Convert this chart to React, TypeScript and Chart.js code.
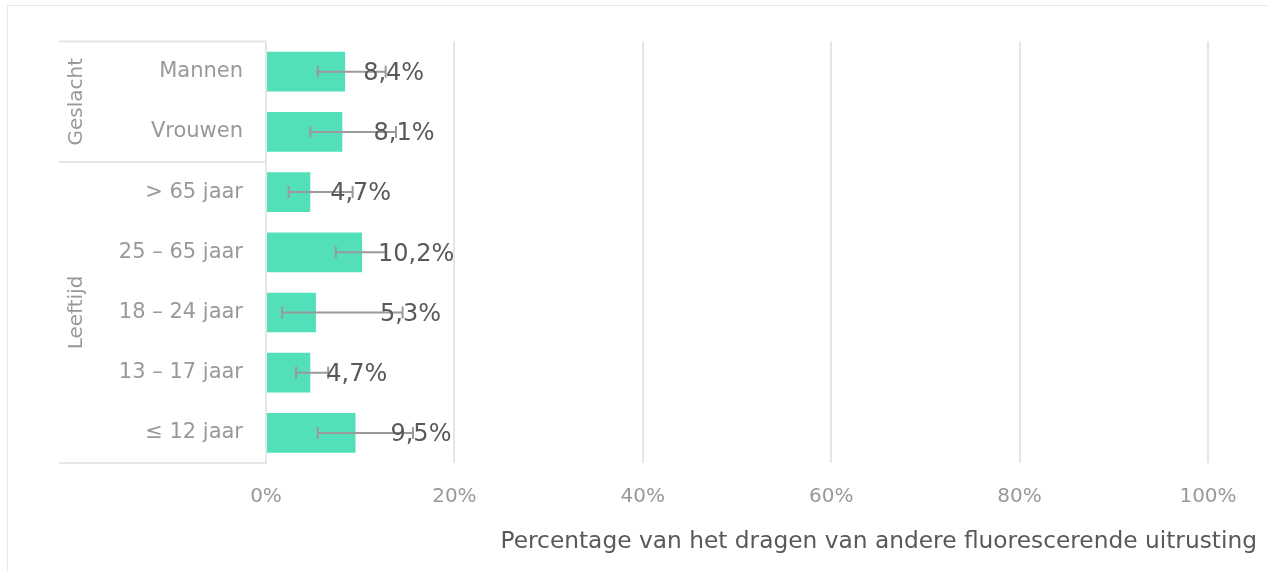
import React, { useEffect, useRef } from "react";
import { Chart, registerables } from "chart.js";

Chart.register(...registerables);

const categories = ["Mannen", "Vrouwen", "> 65 jaar", "25 – 65 jaar", "18 – 24 jaar", "13 – 17 jaar", "≤ 12 jaar"];
const values = [8.4, 8.1, 4.7, 10.2, 5.3, 4.7, 9.5];
const errLow = [5.5, 4.7, 2.4, 7.4, 1.7, 3.2, 5.5];
const errHigh = [12.7, 13.8, 9.2, 12.7, 14.5, 6.6, 15.6];
const groupLabels = ["Geslacht", "Leeftijd"];
const groupSizes = [2, 5];
const xTicks = [0, 20, 40, 60, 80, 100];
const axisTitle = "Percentage van het dragen van andere fluorescerende uitrusting";

const FONT = "'DejaVu Sans', Verdana, sans-serif";
const LINE = "#e6e6e6";

const W = 1259;
const H = 565;

const overlay = {
  id: "overlay",
  afterDatasetsDraw(chart: any) {
    const ctx = chart.ctx;
    const x = chart.scales.x;
    const y = chart.scales.y;
    ctx.save();
    // table lines on the category side
    ctx.strokeStyle = LINE;
    ctx.lineWidth = 2;
    const tableLeft = 51;
    const rowBounds: number[] = [y.top];
    let idx = 0;
    groupSizes.forEach((n) => {
      idx += n;
      if (idx < categories.length) {
        rowBounds.push((y.getPixelForValue(idx - 1) + y.getPixelForValue(idx)) / 2);
      } else {
        rowBounds.push(y.bottom);
      }
    });
    rowBounds.forEach((py) => {
      ctx.beginPath();
      ctx.moveTo(tableLeft, py);
      ctx.lineTo(x.left, py);
      ctx.stroke();
    });
    // group labels
    ctx.fillStyle = "#999999";
    ctx.font = `20px ${FONT}`;
    ctx.textAlign = "center";
    ctx.textBaseline = "middle";
    groupLabels.forEach((lab, g) => {
      const cy = (rowBounds[g] + rowBounds[g + 1]) / 2;
      ctx.save();
      ctx.translate(69, cy);
      ctx.rotate(-Math.PI / 2);
      ctx.fillText(lab, 0, 0);
      ctx.restore();
    });
    // error bars
    ctx.strokeStyle = "#9a9a9a";
    ctx.lineWidth = 2;
    values.forEach((v, i) => {
      const cy = y.getPixelForValue(i);
      const x1 = x.getPixelForValue(errLow[i]);
      const x2 = x.getPixelForValue(errHigh[i]);
      ctx.beginPath();
      ctx.moveTo(x1, cy);
      ctx.lineTo(x2, cy);
      ctx.moveTo(x1, cy - 6);
      ctx.lineTo(x1, cy + 6);
      ctx.moveTo(x2, cy - 6);
      ctx.lineTo(x2, cy + 6);
      ctx.stroke();
    });
    // data labels
    ctx.fillStyle = "#595959";
    ctx.font = `24px ${FONT}`;
    ctx.textAlign = "center";
    ctx.textBaseline = "middle";
    values.forEach((v, i) => {
      const txt = v.toFixed(1).replace(".", ",") + "%";
      const w = ctx.measureText(txt).width;
      const cy = y.getPixelForValue(i) + 2;
      const cx = Math.max(x.getPixelForValue(errHigh[i]) + 8, x.getPixelForValue(v) + 16 + w / 2);
      ctx.fillText(txt, cx, cy);
    });
    // axis title
    ctx.fillStyle = "#595959";
    ctx.font = `23.3px ${FONT}`;
    ctx.textAlign = "right";
    ctx.textBaseline = "middle";
    ctx.fillText(axisTitle, 1249, 536);
    ctx.restore();
  },
};

export default function App() {
  const ref = useRef<HTMLCanvasElement>(null);
  useEffect(() => {
    if (!ref.current) return;
    const chart = new Chart(ref.current, {
      type: "bar",
      data: {
        labels: categories,
        datasets: [
          {
            data: values,
            backgroundColor: "#52dfba",
            borderWidth: 0,
            barPercentage: 0.66,
            categoryPercentage: 1,
          },
        ],
      },
      options: {
        indexAxis: "y",
        responsive: false,
        animation: false,
        devicePixelRatio: 1,
        layout: { padding: { left: 0, right: 59, top: 34, bottom: 0 } },
        plugins: { legend: { display: false }, tooltip: { enabled: false }, title: { display: false } },
        scales: {
          x: {
            min: 0,
            max: 100,
            afterBuildTicks: (s: any) => {
              s.ticks = xTicks.map((v) => ({ value: v }));
            },
            ticks: {
              callback: (v: any) => v + "%",
              color: "#999999",
              font: { family: FONT, size: 20 },
              padding: 22,
            },
            grid: { color: LINE, lineWidth: 2, drawTicks: false },
            border: { display: false },
            afterFit: (s: any) => {
              s.height = 108;
            },
          },
          y: {
            ticks: {
              color: "#999999",
              font: { family: FONT, size: 21 },
              padding: 23,
            },
            grid: { display: false, drawTicks: false },
            border: { display: true, color: LINE, width: 2 },
            afterFit: (s: any) => {
              s.width = 258;
            },
          },
        },
      } as any,
      plugins: [overlay],
    });
    return () => chart.destroy();
  }, []);
  return (
    <div
      style={{
        position: "fixed",
        left: 7,
        top: 5,
        width: W,
        height: H,
        borderTop: `1px solid ${LINE}`,
        borderLeft: `1px solid ${LINE}`,
        background: "#fff",
      }}
    >
      <canvas ref={ref} width={W} height={H} style={{ width: W, height: H, display: "block" }} />
    </div>
  );
}
